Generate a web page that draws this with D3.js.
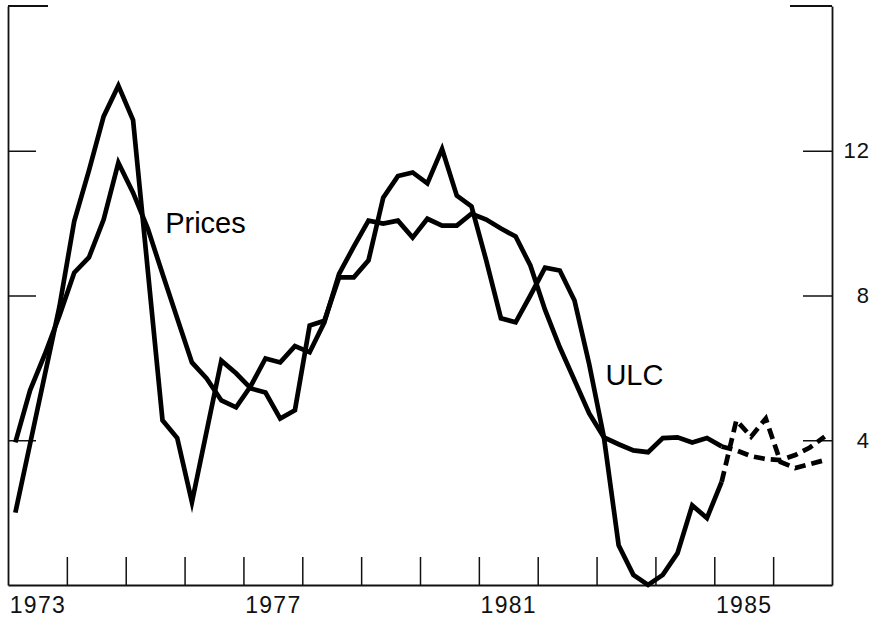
<!DOCTYPE html>
<html>
<head>
<meta charset="utf-8">
<script src="https://cdn.jsdelivr.net/npm/d3@7"></script>
<style>
  html, body { margin: 0; padding: 0; background: #fff; }
  svg { display: block; font-family: "Liberation Sans", Arial, Helvetica, sans-serif; }
</style>
</head>
<body>
<svg id="chart" width="873" height="620"></svg>
<script>
// Quarterly growth rates, 1973Q1 - 1986Q4 (percent, annual rate)
const startYear = 1973;
const endYear = 1987;
const forecastStart = 48; // index of 1985Q1; later quarters are projections

const prices = [
  3.94, 5.38, 6.37, 7.45, 8.63, 9.05, 10.1, 11.67,
  10.84, 9.85, 8.6, 7.37, 6.15, 5.71, 5.1, 4.91,
  5.5, 6.26, 6.15, 6.6, 6.43, 7.26, 8.6, 9.35,
  10.07, 9.99, 10.07, 9.6, 10.12, 9.93, 9.93, 10.26,
  10.1, 9.85, 9.63, 8.83, 7.6, 6.57, 5.66, 4.74,
  4.08, 3.89, 3.72, 3.67, 4.06, 4.08, 3.94, 4.06,
  3.83, 3.72, 3.56, 3.48, 3.45, 3.59, 3.8, 4.1
];

const ulc = [
  2.0, 3.9, 5.8, 7.7, 10.05, 11.45, 12.95, 13.8,
  12.85, 8.7, 4.55, 4.06, 2.29, 4.25, 6.2, 5.85,
  5.43, 5.32, 4.6, 4.83, 7.17, 7.3, 8.5, 8.5,
  8.97, 10.7, 11.3, 11.4, 11.1, 12.05, 10.76, 10.46,
  8.97, 7.37, 7.26, 8.0, 8.77, 8.69, 7.86, 6.1,
  4.08, 1.1, 0.28, 0.0, 0.28, 0.88, 2.2, 1.85,
  2.85, 4.55, 4.1, 4.6, 3.4, 3.23, 3.34, 3.45
];

const yTicks = [4, 8, 12];
const yearLabels = [1973, 1977, 1981, 1985];
const yearTicks = d3.range(startYear + 1, endYear);

const seriesLabels = [
  { text: "Prices", date: 1975.67, value: 9.73 },
  { text: "ULC", date: 1983.15, value: 5.53 }
];

const svg = d3.select("#chart");
const plotLeft = 8, plotRight = 832, plotTop = 6, plotBottom = 585;

const x = d3.scaleLinear().domain([startYear, endYear]).range([plotLeft, plotRight]);
const y = d3.scaleLinear().domain([0, 16]).range([plotBottom, plotTop]);

const quarterDate = i => startYear + (i + 0.5) / 4;

// Axes: ticks point into the plot area
const axisStroke = g => {
  g.select(".domain").attr("stroke", "#111").attr("stroke-width", 1.8);
  g.selectAll(".tick line").attr("stroke", "#111").attr("stroke-width", 1.5);
};

svg.append("g")
  .attr("transform", `translate(${plotLeft},0)`)
  .call(d3.axisLeft(y).tickValues(yTicks).tickSize(-28).tickSizeOuter(0).tickFormat(""))
  .call(axisStroke);

const rightAxis = svg.append("g")
  .attr("transform", `translate(${plotRight},0)`)
  .call(d3.axisRight(y).tickValues(yTicks).tickSize(-29).tickSizeOuter(0).tickPadding(0))
  .call(axisStroke);
rightAxis.selectAll(".tick text")
  .attr("x", 38)
  .attr("text-anchor", "end")
  .attr("fill", "#111")
  .style("font-size", "22px")
  .style("letter-spacing", "1px")
  .style("font-family", "'Liberation Sans', Arial, Helvetica, sans-serif");

svg.append("g")
  .attr("transform", `translate(0,${plotBottom})`)
  .call(d3.axisBottom(x).tickValues(yearTicks).tickSize(-28).tickSizeOuter(0).tickFormat(""))
  .call(axisStroke);

// Year labels centred in their year
const yearAxis = svg.append("g")
  .attr("transform", `translate(0,${plotBottom})`)
  .call(d3.axisBottom(x).tickValues(yearLabels.map(v => v + 0.5)).tickSize(0)
    .tickFormat(v => String(Math.floor(v))));
yearAxis.select(".domain").remove();
yearAxis.selectAll(".tick text")
  .attr("y", 28)
  .attr("dy", 0)
  .attr("fill", "#111")
  .style("font-size", "23px")
  .style("letter-spacing", "1.3px")
  .style("font-family", "'Liberation Sans', Arial, Helvetica, sans-serif");

// Top tick marks at 16 on both sides
[[plotLeft, plotLeft + 40], [plotRight - 42, plotRight]].forEach(([a, b]) => {
  svg.append("line")
    .attr("x1", a).attr("x2", b)
    .attr("y1", y(16)).attr("y2", y(16))
    .attr("stroke", "#111").attr("stroke-width", 1.8);
});

// Series: solid for history, dashed for projections
const line = d3.line()
  .x(d => x(quarterDate(d.i)))
  .y(d => y(d.v));

function drawSeries(values) {
  const pts = values.map((v, i) => ({ i, v }));
  svg.append("path")
    .datum(pts.slice(0, forecastStart + 1))
    .attr("d", line)
    .attr("fill", "none")
    .attr("stroke", "#000")
    .attr("stroke-width", 4.7)
    .attr("stroke-linejoin", "miter")
    .attr("stroke-miterlimit", 6);
  svg.append("path")
    .datum(pts.slice(forecastStart))
    .attr("d", line)
    .attr("fill", "none")
    .attr("stroke", "#000")
    .attr("stroke-width", 4.7)
    .attr("stroke-dasharray", "11,6")
    .attr("stroke-linejoin", "miter")
    .attr("stroke-miterlimit", 6);
}

drawSeries(prices);
drawSeries(ulc);

svg.selectAll(".series-label")
  .data(seriesLabels)
  .enter().append("text")
  .attr("class", "series-label")
  .attr("x", d => x(d.date))
  .attr("y", d => y(d.value))
  .attr("fill", "#000")
  .style("font-size", "29px")
  .text(d => d.text);
</script>
</body>
</html>
